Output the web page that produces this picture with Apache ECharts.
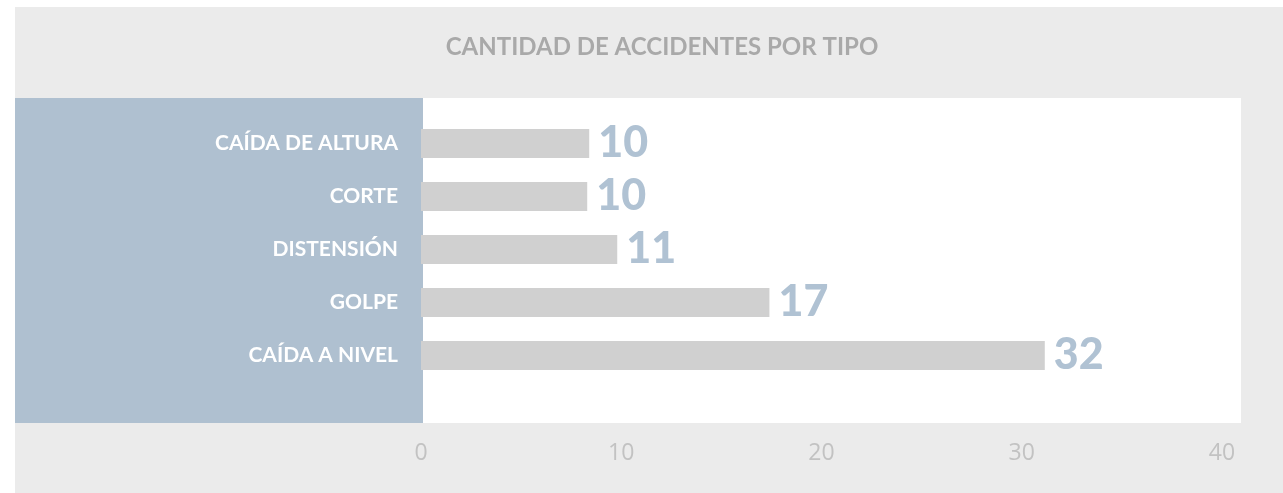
<!DOCTYPE html>
<html>
<head>
<meta charset="utf-8">
<script src="https://cdn.jsdelivr.net/npm/echarts@6/dist/echarts.min.js"></script>
<style>
html,body{margin:0;padding:0;background:#fff;}
#chart{width:1283px;height:493px;}
</style>
</head>
<body>
<div id="chart"></div>
<script>
// Data
const titleText = 'CANTIDAD DE ACCIDENTES POR TIPO';
const categories = ['CAÍDA DE ALTURA', 'CORTE', 'DISTENSIÓN', 'GOLPE', 'CAÍDA A NIVEL'];
// bar lengths as drawn in the reference (measured against the axis)
const barLengths = [8.4, 8.3, 9.8, 17.4, 31.15];
// numbers printed next to the bars
const valueLabels = ['10', '10', '11', '17', '32'];
const xTicks = [0, 10, 20, 30, 40];

const chart = echarts.init(document.getElementById('chart'), null, {renderer: 'canvas'});
chart.setOption({
  backgroundColor: '#ffffff',
  animation: false,
  title: {
    text: titleText,
    left: 657,
    textAlign: 'center',
    top: 30,
    textStyle: {fontFamily: 'Lato', fontWeight: 'bold', fontSize: 24, color: '#a9a9a9'}
  },
  graphic: [
    {type: 'rect', z: -10, shape: {x: 15, y: 7, width: 1268, height: 486}, style: {fill: '#ebebeb'}},
    {type: 'rect', z: -9, shape: {x: 423, y: 98, width: 818, height: 325}, style: {fill: '#ffffff'}},
    {type: 'rect', z: -9, shape: {x: 15, y: 98, width: 408, height: 325}, style: {fill: '#afc0d0'}}
  ],
  grid: {left: 421, right: 61, top: 117, height: 265, containLabel: false},
  xAxis: {
    type: 'value',
    min: xTicks[0],
    max: xTicks[xTicks.length - 1],
    interval: 10,
    axisLine: {show: false},
    axisTick: {show: false},
    splitLine: {show: false},
    axisLabel: {
      margin: 59,
      fontFamily: 'Open Sans',
      fontSize: 23,
      color: '#c2c2c2',
      lineHeight: 24
    }
  },
  yAxis: {
    type: 'category',
    data: categories,
    inverse: true,
    axisLine: {show: false},
    axisTick: {show: false},
    splitLine: {show: false},
    axisLabel: {
      margin: 23,
      fontFamily: 'Lato',
      fontWeight: 'bold',
      fontSize: 21,
      color: '#ffffff'
    }
  },
  series: [{
    type: 'bar',
    data: barLengths,
    barWidth: 29,
    itemStyle: {color: '#d0d0d0'},
    label: {
      show: true,
      position: 'right',
      distance: 9,
      formatter: p => valueLabels[p.dataIndex],
      fontFamily: 'Lato',
      fontWeight: 900,
      fontSize: 43,
      color: '#b0c2d3'
    }
  }]
});
</script>
</body>
</html>
